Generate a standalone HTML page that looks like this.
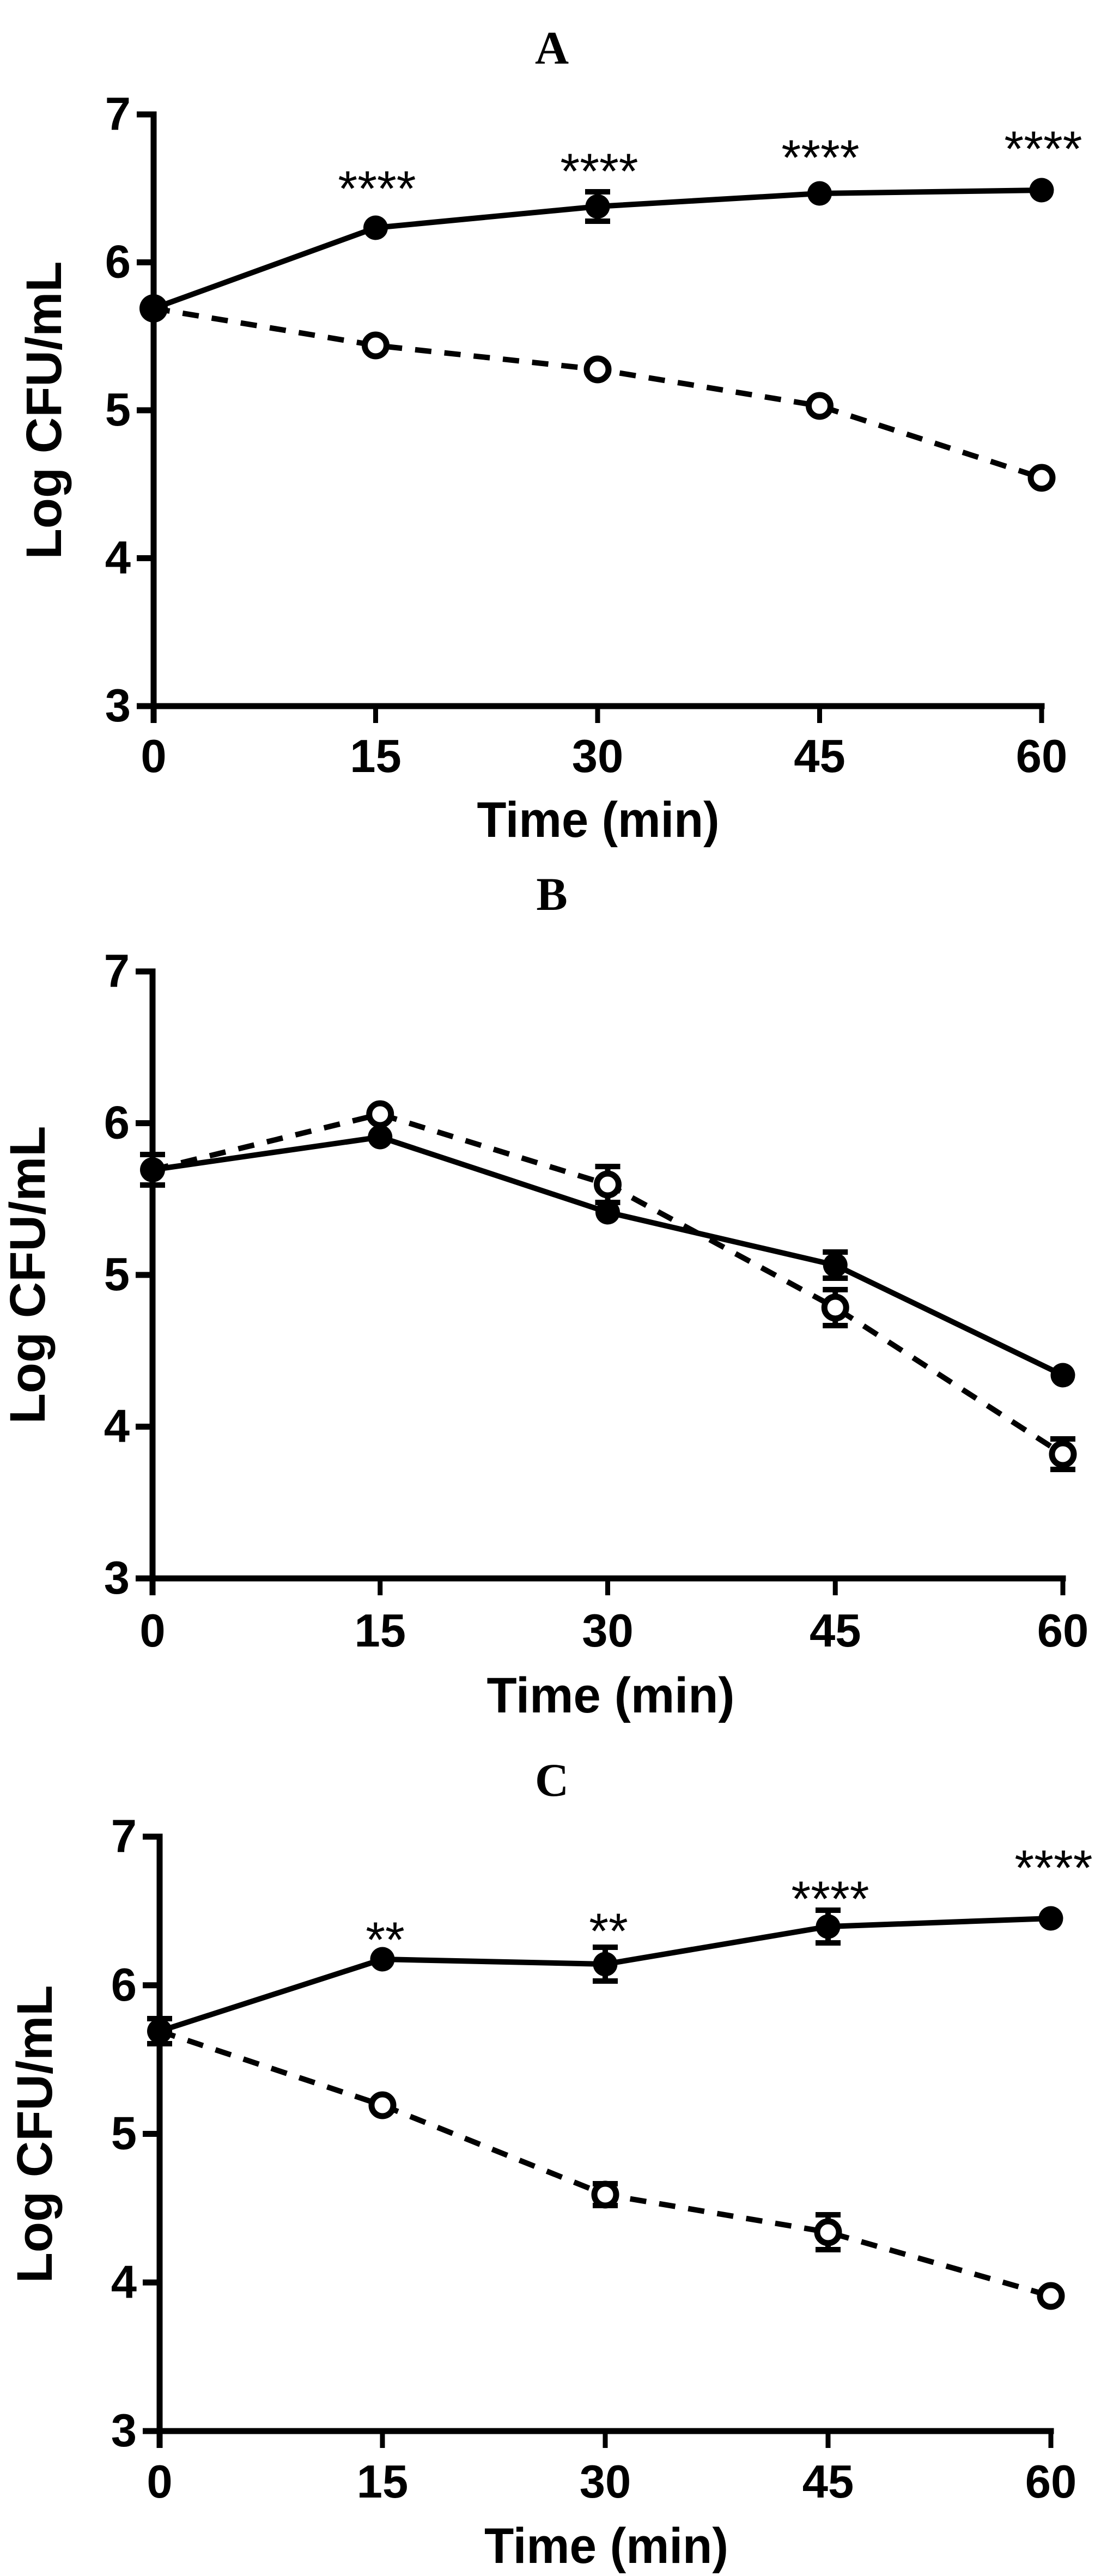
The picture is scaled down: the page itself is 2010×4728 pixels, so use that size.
<!DOCTYPE html>
<html>
<head>
<meta charset="utf-8">
<style>
html,body{margin:0;padding:0;background:#fff;}
svg{display:block;}
.t{font-family:"Liberation Sans",Arial,sans-serif;font-weight:bold;font-size:85px;fill:#000;}
.ax{font-family:"Liberation Sans",Arial,sans-serif;font-weight:bold;font-size:92px;fill:#000;}
.st{font-family:"Liberation Sans",Arial,sans-serif;font-weight:normal;font-size:92px;fill:#000;}
.ti{font-family:"Liberation Serif","Times New Roman",serif;font-weight:bold;font-size:86px;fill:#000;}
</style>
</head>
<body>
<svg width="2010" height="4728" viewBox="0 0 2010 4728" xmlns="http://www.w3.org/2000/svg">
<rect x="0" y="0" width="2010" height="4728" fill="#fff"/>

<!-- ================= PANEL A ================= -->
<text class="ti" x="1013" y="117" text-anchor="middle">A</text>
<g stroke="#000" fill="none" stroke-linecap="butt">
  <line x1="282" y1="204.5" x2="282" y2="1327" stroke-width="11"/>
  <line x1="251" y1="1296" x2="1917.5" y2="1296" stroke-width="11"/>
  <line x1="251" y1="210" x2="282" y2="210" stroke-width="11"/>
  <line x1="251" y1="481.5" x2="282" y2="481.5" stroke-width="11"/>
  <line x1="251" y1="753" x2="282" y2="753" stroke-width="11"/>
  <line x1="251" y1="1024.5" x2="282" y2="1024.5" stroke-width="11"/>
  <line x1="689.5" y1="1296" x2="689.5" y2="1327" stroke-width="9"/>
  <line x1="1097" y1="1296" x2="1097" y2="1327" stroke-width="9"/>
  <line x1="1504.5" y1="1296" x2="1504.5" y2="1327" stroke-width="9"/>
  <line x1="1912" y1="1296" x2="1912" y2="1327" stroke-width="9"/>
</g>
<g class="t" text-anchor="end">
  <text x="240" y="238">7</text>
  <text x="240" y="509.5">6</text>
  <text x="240" y="781">5</text>
  <text x="240" y="1052.5">4</text>
  <text x="240" y="1324">3</text>
</g>
<g class="t" text-anchor="middle">
  <text x="282" y="1417">0</text>
  <text x="689.5" y="1417">15</text>
  <text x="1097" y="1417">30</text>
  <text x="1504.5" y="1417">45</text>
  <text x="1912" y="1417">60</text>
</g>
<text class="ax" x="1098" y="1536" text-anchor="middle" textLength="445" lengthAdjust="spacingAndGlyphs">Time (min)</text>
<text class="ax" transform="translate(112,753) rotate(-90)" text-anchor="middle">Log CFU/mL</text>

<polyline points="282,566 689.5,634 1097,678 1504.5,745 1912,877" fill="none" stroke="#000" stroke-width="10" stroke-dasharray="30 24"/>
<polyline points="282,566 689.5,418 1097,379 1504.5,355 1912,349" fill="none" stroke="#000" stroke-width="10" stroke-linejoin="round"/>
<g stroke="#000" stroke-width="10">
  <line x1="1097" y1="352" x2="1097" y2="406"/>
  <line x1="1074" y1="352" x2="1120" y2="352"/>
  <line x1="1074" y1="406" x2="1120" y2="406"/>
</g>
<g fill="#fff" stroke="#000" stroke-width="11">
  <circle cx="689.5" cy="634" r="20"/>
  <circle cx="1097" cy="678" r="20"/>
  <circle cx="1504.5" cy="745" r="20"/>
  <circle cx="1912" cy="877" r="20"/>
</g>
<g fill="#000">
  <circle cx="282" cy="566" r="26"/>
  <circle cx="689.5" cy="418" r="22.5"/>
  <circle cx="1097" cy="379" r="22.5"/>
  <circle cx="1504.5" cy="355" r="22.5"/>
  <circle cx="1912" cy="349" r="22.5"/>
</g>
<g class="st" text-anchor="middle">
  <text x="692" y="378">****</text>
  <text x="1100" y="346">****</text>
  <text x="1506" y="321">****</text>
  <text x="1915" y="305">****</text>
</g>

<!-- ================= PANEL B ================= -->
<text class="ti" x="1013" y="1670" text-anchor="middle">B</text>
<g stroke="#000" fill="none" stroke-linecap="butt">
  <line x1="280" y1="1777.5" x2="280" y2="2928" stroke-width="11"/>
  <line x1="249" y1="2897" x2="1956.5" y2="2897" stroke-width="11"/>
  <line x1="249" y1="1783" x2="280" y2="1783" stroke-width="11"/>
  <line x1="249" y1="2061.5" x2="280" y2="2061.5" stroke-width="11"/>
  <line x1="249" y1="2340" x2="280" y2="2340" stroke-width="11"/>
  <line x1="249" y1="2618.5" x2="280" y2="2618.5" stroke-width="11"/>
  <line x1="697.75" y1="2897" x2="697.75" y2="2928" stroke-width="9"/>
  <line x1="1115.5" y1="2897" x2="1115.5" y2="2928" stroke-width="9"/>
  <line x1="1533.25" y1="2897" x2="1533.25" y2="2928" stroke-width="9"/>
  <line x1="1951" y1="2897" x2="1951" y2="2928" stroke-width="9"/>
</g>
<g class="t" text-anchor="end">
  <text x="238" y="1811">7</text>
  <text x="238" y="2089.5">6</text>
  <text x="238" y="2368">5</text>
  <text x="238" y="2646.5">4</text>
  <text x="238" y="2925">3</text>
</g>
<g class="t" text-anchor="middle">
  <text x="280" y="3022">0</text>
  <text x="697.75" y="3022">15</text>
  <text x="1115.5" y="3022">30</text>
  <text x="1533.25" y="3022">45</text>
  <text x="1951" y="3022">60</text>
</g>
<text class="ax" x="1121" y="3143" text-anchor="middle" textLength="455" lengthAdjust="spacingAndGlyphs">Time (min)</text>
<text class="ax" transform="translate(82,2340) rotate(-90)" text-anchor="middle">Log CFU/mL</text>

<polyline points="280,2147 697.75,2045 1115.5,2174 1533.25,2400 1951,2669" fill="none" stroke="#000" stroke-width="10" stroke-dasharray="30 24"/>
<polyline points="280,2147 697.75,2087 1115.5,2225 1533.25,2322 1951,2524" fill="none" stroke="#000" stroke-width="10" stroke-linejoin="round"/>
<g stroke="#000" stroke-width="10">
  <line x1="280" y1="2119" x2="280" y2="2175"/>
  <line x1="257" y1="2119" x2="303" y2="2119"/>
  <line x1="257" y1="2175" x2="303" y2="2175"/>
  <line x1="1533.25" y1="2298" x2="1533.25" y2="2346"/>
  <line x1="1510.25" y1="2298" x2="1556.25" y2="2298"/>
  <line x1="1510.25" y1="2346" x2="1556.25" y2="2346"/>
  <line x1="1115.5" y1="2141" x2="1115.5" y2="2207"/>
  <line x1="1092.5" y1="2141" x2="1138.5" y2="2141"/>
  <line x1="1092.5" y1="2207" x2="1138.5" y2="2207"/>
  <line x1="1533.25" y1="2367" x2="1533.25" y2="2433"/>
  <line x1="1510.25" y1="2367" x2="1556.25" y2="2367"/>
  <line x1="1510.25" y1="2433" x2="1556.25" y2="2433"/>
  <line x1="1951" y1="2641" x2="1951" y2="2697"/>
  <line x1="1928" y1="2641" x2="1974" y2="2641"/>
  <line x1="1928" y1="2697" x2="1974" y2="2697"/>
</g>
<g fill="#fff" stroke="#000" stroke-width="11">
  <circle cx="697.75" cy="2045" r="20"/>
  <circle cx="1115.5" cy="2174" r="20"/>
  <circle cx="1533.25" cy="2400" r="20"/>
  <circle cx="1951" cy="2669" r="20"/>
</g>
<g fill="#000">
  <circle cx="280" cy="2147" r="23"/>
  <circle cx="697.75" cy="2087" r="22.5"/>
  <circle cx="1115.5" cy="2225" r="22.5"/>
  <circle cx="1533.25" cy="2322" r="22.5"/>
  <circle cx="1951" cy="2524" r="22.5"/>
</g>

<!-- ================= PANEL C ================= -->
<text class="ti" x="1013" y="3296" text-anchor="middle">C</text>
<g stroke="#000" fill="none" stroke-linecap="butt">
  <line x1="293" y1="3365.5" x2="293" y2="4493" stroke-width="11"/>
  <line x1="262" y1="4462" x2="1934.5" y2="4462" stroke-width="11"/>
  <line x1="262" y1="3371" x2="293" y2="3371" stroke-width="11"/>
  <line x1="262" y1="3643.75" x2="293" y2="3643.75" stroke-width="11"/>
  <line x1="262" y1="3916.5" x2="293" y2="3916.5" stroke-width="11"/>
  <line x1="262" y1="4189.25" x2="293" y2="4189.25" stroke-width="11"/>
  <line x1="702" y1="4462" x2="702" y2="4493" stroke-width="9"/>
  <line x1="1111" y1="4462" x2="1111" y2="4493" stroke-width="9"/>
  <line x1="1520" y1="4462" x2="1520" y2="4493" stroke-width="9"/>
  <line x1="1929" y1="4462" x2="1929" y2="4493" stroke-width="9"/>
</g>
<g class="t" text-anchor="end">
  <text x="251" y="3399">7</text>
  <text x="251" y="3671.75">6</text>
  <text x="251" y="3944.5">5</text>
  <text x="251" y="4217.25">4</text>
  <text x="251" y="4490">3</text>
</g>
<g class="t" text-anchor="middle">
  <text x="293" y="4584">0</text>
  <text x="702" y="4584">15</text>
  <text x="1111" y="4584">30</text>
  <text x="1520" y="4584">45</text>
  <text x="1929" y="4584">60</text>
</g>
<text class="ax" x="1113" y="4704" text-anchor="middle" textLength="448" lengthAdjust="spacingAndGlyphs">Time (min)</text>
<text class="ax" transform="translate(95,3917) rotate(-90)" text-anchor="middle">Log CFU/mL</text>

<polyline points="293,3728 702,3864 1111,4028 1520,4097 1929,4214" fill="none" stroke="#000" stroke-width="10" stroke-dasharray="30 24"/>
<polyline points="293,3728 702,3596 1111,3605 1520,3536 1929,3521" fill="none" stroke="#000" stroke-width="10" stroke-linejoin="round"/>
<g stroke="#000" stroke-width="10">
  <line x1="293" y1="3705" x2="293" y2="3751"/>
  <line x1="270" y1="3705" x2="316" y2="3705"/>
  <line x1="270" y1="3751" x2="316" y2="3751"/>
  <line x1="1111" y1="3574" x2="1111" y2="3636"/>
  <line x1="1088" y1="3574" x2="1134" y2="3574"/>
  <line x1="1088" y1="3636" x2="1134" y2="3636"/>
  <line x1="1520" y1="3506" x2="1520" y2="3566"/>
  <line x1="1497" y1="3506" x2="1543" y2="3506"/>
  <line x1="1497" y1="3566" x2="1543" y2="3566"/>
  <line x1="1111" y1="4008" x2="1111" y2="4048"/>
  <line x1="1088" y1="4008" x2="1134" y2="4008"/>
  <line x1="1088" y1="4048" x2="1134" y2="4048"/>
  <line x1="1520" y1="4065" x2="1520" y2="4129"/>
  <line x1="1497" y1="4065" x2="1543" y2="4065"/>
  <line x1="1497" y1="4129" x2="1543" y2="4129"/>
</g>
<g fill="#fff" stroke="#000" stroke-width="11">
  <circle cx="702" cy="3864" r="20"/>
  <circle cx="1111" cy="4028" r="20"/>
  <circle cx="1520" cy="4097" r="20"/>
  <circle cx="1929" cy="4214" r="20"/>
</g>
<g fill="#000">
  <circle cx="293" cy="3728" r="23"/>
  <circle cx="702" cy="3596" r="22.5"/>
  <circle cx="1111" cy="3605" r="22.5"/>
  <circle cx="1520" cy="3536" r="22.5"/>
  <circle cx="1929" cy="3521" r="22.5"/>
</g>
<g class="st" text-anchor="middle">
  <text x="707" y="3592">**</text>
  <text x="1117" y="3576">**</text>
  <text x="1524" y="3517">****</text>
  <text x="1934" y="3460">****</text>
</g>
</svg>
</body>
</html>
